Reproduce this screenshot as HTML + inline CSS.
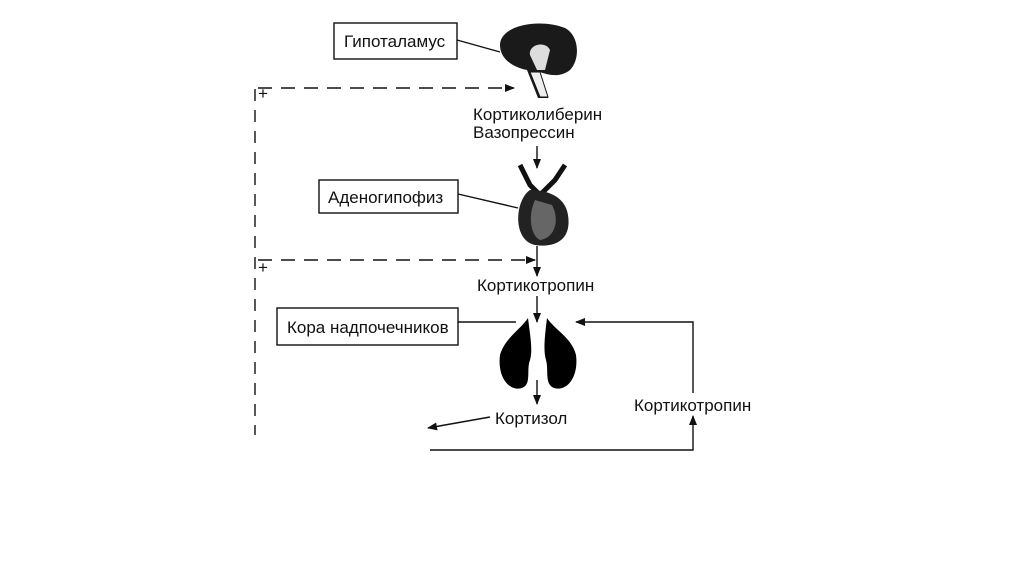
<!DOCTYPE html>
<html><head><meta charset="utf-8"><style>
body{margin:0;background:#fff;width:1024px;height:574px;overflow:hidden}
svg text{font-family:"Liberation Sans",sans-serif;font-size:17px;fill:#111}
</style></head><body>
<svg width="1024" height="574" viewBox="0 0 1024 574">
<defs><marker id="a" markerWidth="10" markerHeight="8" refX="9" refY="4" orient="auto" markerUnits="userSpaceOnUse"><path d="M0,0 L10,4 L0,8z" fill="#111"/></marker></defs>
<g stroke="#111" stroke-width="1.4" fill="none">
<path d="M255,89 V435" stroke-dasharray="12,9"/>
<path d="M258,88 H514" stroke-dasharray="14,9" marker-end="url(#a)"/>
<path d="M258,260 H535" stroke-dasharray="14,9" marker-end="url(#a)"/>
<path d="M537,146 V168" marker-end="url(#a)"/>
<path d="M537,246 V276" marker-end="url(#a)"/>
<path d="M537,296 V322" marker-end="url(#a)"/>
<path d="M537,380 V404" marker-end="url(#a)"/>
<path d="M490,417 L428,428" marker-end="url(#a)"/>
<path d="M430,450 H693 V416" marker-end="url(#a)"/>
<path d="M693,393 V322 H576" marker-end="url(#a)"/>
<path d="M457,40 L500,52"/>
<path d="M458,194 L518,208"/>
<path d="M458,322 L516,322"/>
<rect x="334" y="23" width="123" height="36"/>
<rect x="319" y="180" width="139" height="33"/>
<rect x="277" y="308" width="181" height="37"/>
</g>
<text x="258" y="99" font-size="11">+</text>
<text x="258" y="273" font-size="11">+</text>
<text x="344" y="47">Гипоталамус</text>
<text x="328" y="203">Аденогипофиз</text>
<text x="287" y="333">Кора надпочечников</text>
<text x="473" y="120">Кортиколиберин</text>
<text x="473" y="138">Вазопрессин</text>
<text x="477" y="291">Кортикотропин</text>
<text x="495" y="424">Кортизол</text>
<text x="634" y="411">Кортикотропин</text>
<!-- brain -->
<path d="M500,45 C500,25 540,18 565,28 C580,36 580,60 570,70 C560,78 548,75 540,72 L548,98 L538,98 L527,70 C515,68 500,60 500,45z" fill="#1a1a1a"/>
<path d="M530,55 C528,45 545,40 550,50 L545,70 L537,70z" fill="#ddd"/>
<path d="M540,72 L548,97 L540,97 L530,72z" fill="#eee" stroke="#111"/>
<!-- pituitary -->
<path d="M520,165 L530,185 L540,195 L555,180 L565,165" stroke="#111" stroke-width="5" fill="none"/>
<path d="M530,190 C515,200 512,240 535,245 C555,248 572,240 568,215 C565,195 545,190 530,190z" fill="#222"/>
<path d="M535,200 C528,215 530,235 540,240 C555,238 560,220 552,205z" fill="#666"/>
<!-- kidneys -->
<path d="M528,318 C520,330 505,338 500,355 C497,378 510,392 522,388 C532,384 526,370 530,360 C533,350 530,335 528,318z" fill="#000"/>
<path d="M547,318 C555,330 572,338 576,355 C579,378 566,392 554,388 C544,384 549,370 546,360 C543,350 545,335 547,318z" fill="#000"/>
</svg>
</body></html>
